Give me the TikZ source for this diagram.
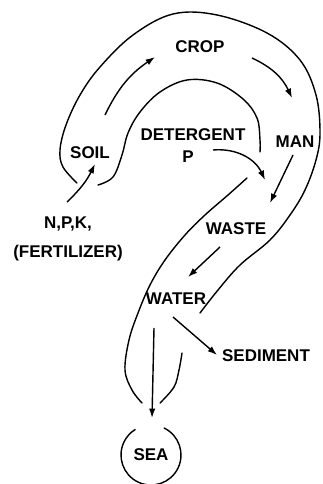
\documentclass[tikz,border=0pt]{standalone}
\usepackage{fontspec}
\setmainfont{Liberation Sans}
\usetikzlibrary{arrows.meta}

\begin{document}
\begin{tikzpicture}[x=0.03cm,y=0.03cm,font=\fontsize{14.5}{17}\selectfont\bfseries,>={Latex[length=8pt,width=5.5pt]}]
\tikzset{lbl/.style={inner sep=1pt,align=center}, arr/.style={->,line width=1.2pt}, rim/.style={line width=1.2pt,line cap=round}}
\useasboundingbox (0,0) rectangle (322,-484);
% the bent pipe
\draw[rim] plot[smooth,tension=0.6] coordinates {(77,-183) (63,-167) (60,-150) (66,-125) (80,-95) (100,-67) (133,-35) (173,-14) (217,-15) (267,-33) (300,-60) (316,-95) (320,-133) (316,-160) (305,-190) (290,-215) (270,-240) (240,-265) (218,-290) (200,-313)};
\draw[rim] plot[smooth,tension=0.6] coordinates {(98,-185) (113,-177) (122,-155) (128,-133) (140,-112) (160,-92) (187,-80) (217,-83) (243,-99) (257,-118) (260,-140) (260,-152)};
\draw[rim] plot[smooth,tension=0.6] coordinates {(247,-178) (228,-195) (205,-215) (185,-235) (165,-260) (150,-285) (138,-313) (129,-340) (125,-370) (132,-390) (142,-403)};
\draw[rim] plot[smooth,tension=0.6] coordinates {(182,-353) (179,-370) (174,-387) (160,-403)};
% labels
\node[lbl] (crop) at (200,-47) {CROP};
\node[lbl] (man) at (295,-142) {MAN};
\node[lbl] (soil) at (90,-153) {SOIL};
\node[lbl] (det) at (193,-135) {DETERGENT};
\node[lbl] (detp) at (188,-157) {P};
\node[lbl] (npk) at (68,-239) {N,P,K,\\[8pt](FERTILIZER)};
\node[lbl] (waste) at (236,-229) {WASTE};
\node[lbl] (water) at (176,-299) {WATER};
\node[lbl] (sediment) at (266,-356) {SEDIMENT};
\node[lbl,circle,minimum size=1.8cm,outer sep=0pt] (sea) at (151,-455) {SEA};
\draw[rim] (sea.64) arc[start angle=64,end angle=-238,radius=0.9cm];
% flows
\draw[arr] ([shift={(-1,37)}]npk.center) to[bend right=10] ([shift={(5,-11)}]soil.center);
\draw[arr] ([shift={(15,38)}]soil.center) to[bend left=15] ([shift={(-45,-10)}]crop.center);
\draw[arr] ([shift={(52,-11)}]crop.center) to[bend left=20] ([shift={(-3,44)}]man.center);
\draw[arr] ([shift={(-2,-13)}]man.center) -- ([shift={(34,26)}]waste.center);
\draw[arr] ([shift={(25,7)}]detp.center) to[bend left=35] ([shift={(29,49)}]waste.center);
\draw[arr] ([shift={(-16,-18)}]waste.center) -- ([shift={(12,22)}]water.center);
\draw[arr] ([shift={(-3,-18)}]water.center) -- ([shift={(-49,1)}]sediment.center);
\draw[arr] ([shift={(-22,-29)}]water.center) -- ([shift={(1,37)}]sea.center);
\end{tikzpicture}
\end{document}
